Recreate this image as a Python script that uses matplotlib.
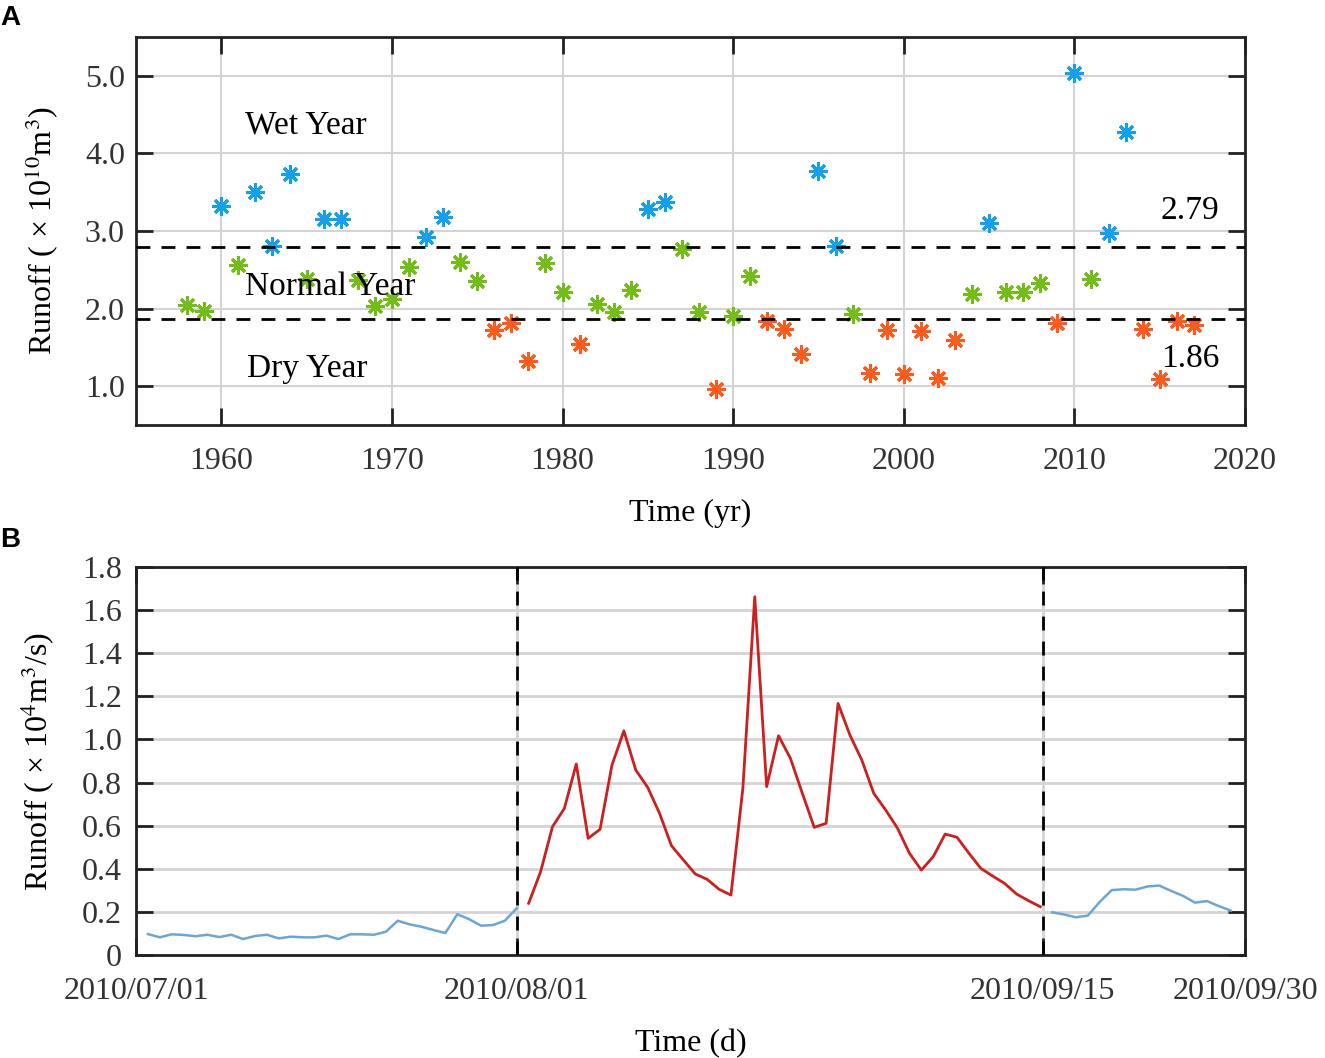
import numpy as np
import matplotlib
matplotlib.use('Agg')
import matplotlib.pyplot as plt

plt.rcParams['font.family'] = ['Liberation Serif', 'DejaVu Serif']
plt.rcParams['mathtext.fontset'] = 'stix'

# Panel A : runoff annuel
years = list(range(1958, 2018))
runoff_annual = [2.05, 1.97, 3.32, 2.56, 3.50, 2.81, 3.73, 2.38, 3.15, 3.15,
                 2.37, 2.03, 2.13, 2.53, 2.92, 3.18, 2.60, 2.36, 1.72, 1.82,
                 1.33, 2.59, 2.21, 1.55, 2.06, 1.96, 2.24, 3.28, 3.37, 2.77,
                 1.96, 0.96, 1.90, 2.42, 1.84, 1.74, 1.42, 3.77, 2.81, 1.93,
                 1.17, 1.73, 1.16, 1.71, 1.10, 1.59, 2.19, 3.10, 2.22, 2.22,
                 2.33, 1.82, 5.03, 2.38, 2.97, 4.28, 1.74, 1.09, 1.84, 1.79]
seuil_wet = 2.79
seuil_dry = 1.86

# Panel B : runoff journalier 2010 (jour 0 = 2010/07/01)
runoff_jul = [0.097, 0.082, 0.096, 0.093, 0.087, 0.094, 0.083, 0.094, 0.074, 0.088,
              0.094, 0.077, 0.085, 0.082, 0.082, 0.090, 0.074, 0.096, 0.096, 0.094,
              0.108, 0.159, 0.142, 0.131, 0.116, 0.102, 0.189, 0.166, 0.136, 0.139,
              0.159, 0.217]
runoff_flood = [0.240, 0.386, 0.595, 0.680, 0.886, 0.541, 0.583, 0.881, 1.040, 0.858,
                0.778, 0.657, 0.507, 0.441, 0.376, 0.351, 0.305, 0.278, 0.773, 1.662,
                0.781, 1.017, 0.912, 0.750, 0.592, 0.611, 1.167, 1.020, 0.904, 0.750,
                0.673, 0.588, 0.472, 0.394, 0.456, 0.561, 0.546, 0.472, 0.402, 0.366,
                0.332, 0.283, 0.252, 0.224]
runoff_sep = [0.198, 0.188, 0.175, 0.183, 0.247, 0.301, 0.305, 0.303, 0.318, 0.322,
              0.297, 0.274, 0.243, 0.250, 0.227, 0.206]
date_ticks = [-1, 31, 75.2, 92.2]
date_labels = ['2010/07/01', '2010/08/01', '2010/09/15', '2010/09/30']

C_WET = '#16a0ec'
C_NORMAL = '#74bd19'
C_DRY = '#fd5a1e'
C_LOW = '#6aa6d6'
C_HIGH = '#cc1f1f'
FS = 23

fig = plt.figure(figsize=(13.25, 10.58), dpi=100)
ax1 = fig.add_axes([136 / 1325, 1 - 425 / 1058, 1109 / 1325, 388 / 1058])
ax2 = fig.add_axes([136 / 1325, 1 - 955 / 1058, 1109 / 1325, 388 / 1058])

def style_axes(ax):
    for s in ax.spines.values():
        s.set_linewidth(2)
        s.set_color('#222222')
    ax.tick_params(direction='in', length=12, width=2, labelsize=FS,
                   top=True, right=True, colors='#222222', labelcolor='#333333')
    ax.set_axisbelow(True)

# ---- A ----
yrs = np.array(years)
val = np.array(runoff_annual)
asterisk = (8, 2, 0)
for mask, col in [(val > seuil_wet, C_WET),
                  ((val <= seuil_wet) & (val >= seuil_dry), C_NORMAL),
                  (val < seuil_dry, C_DRY)]:
    ax1.plot(yrs[mask], val[mask], linestyle='none', marker=asterisk,
             markersize=13, markeredgewidth=2.2, color=col, zorder=3)
for s in (seuil_wet, seuil_dry):
    ax1.axhline(s, color='black', linestyle=(0, (5, 4)), linewidth=2, zorder=4)
ax1.set_xlim(1955, 2020)
ax1.set_ylim(0.5, 5.5)
ax1.set_xticks(range(1960, 2021, 10))
ax1.set_yticks([1, 2, 3, 4, 5])
ax1.set_yticklabels(['1.0', '2.0', '3.0', '4.0', '5.0'])
ax1.grid(True, color='#d4d4d4', linewidth=1.5)
style_axes(ax1)
ax1.tick_params(axis='x', pad=16)
ax1.tick_params(axis='y', pad=8)
ax1.set_xlabel('Time (yr)', fontsize=FS, labelpad=16)
ax1.set_ylabel('Runoff ( × 10$^{10}$m$^{3}$)', fontsize=FS, labelpad=18)
ax1.text(1961.4, 4.36, 'Wet Year', fontsize=24, va='center', ha='left', zorder=5)
ax1.text(1961.4, 2.28, 'Normal Year', fontsize=24, va='center', ha='left', zorder=5)
ax1.text(1961.5, 1.23, 'Dry Year', fontsize=24, va='center', ha='left', zorder=5)
ax1.text(2018.5, 3.26, '%.2f' % seuil_wet, fontsize=24, va='center', ha='right')
ax1.text(2018.5, 1.36, '%.2f' % seuil_dry, fontsize=24, va='center', ha='right')

# ---- B ----
n1, n2 = len(runoff_jul), len(runoff_flood)
x_jul = np.arange(n1)
x_flood = np.arange(n1, n1 + n2)
x_sep = np.arange(n1 + n2, n1 + n2 + len(runoff_sep))
ax2.plot(x_jul, runoff_jul, color=C_LOW, linewidth=1.8)
ax2.plot(x_flood, runoff_flood, color=C_HIGH, linewidth=2)
ax2.plot(x_sep, runoff_sep, color=C_LOW, linewidth=1.8)
for t in date_ticks[1:3]:
    ax2.axvline(t, color='black', linestyle=(0, (5, 4)), linewidth=2, zorder=4)
ax2.set_xlim(date_ticks[0], date_ticks[-1])
ax2.set_ylim(0, 1.8)
ax2.set_xticks(date_ticks)
ax2.set_xticklabels(date_labels)
yt = np.arange(0, 1.81, 0.2)
ax2.set_yticks(yt)
ax2.set_yticklabels(['0'] + ['%.1f' % v for v in yt[1:]])
ax2.grid(True, color='#d4d4d4', linewidth=2)
style_axes(ax2)
ax2.tick_params(axis='x', pad=16)
ax2.tick_params(axis='y', pad=10)
ax2.set_xlabel('Time (d)', fontsize=FS, labelpad=16)
ax2.set_ylabel('Runoff ( × 10$^{4}$m$^{3}$/s)', fontsize=FS, labelpad=18)

fig.text(0.0, 1 - 18 / 1058, 'A', fontsize=20, fontweight='bold',
         family='Liberation Sans', va='center', ha='left')
fig.text(0.0, 1 - 540 / 1058, 'B', fontsize=20, fontweight='bold',
         family='Liberation Sans', va='center', ha='left')

fig.savefig('out.png', dpi=100)
